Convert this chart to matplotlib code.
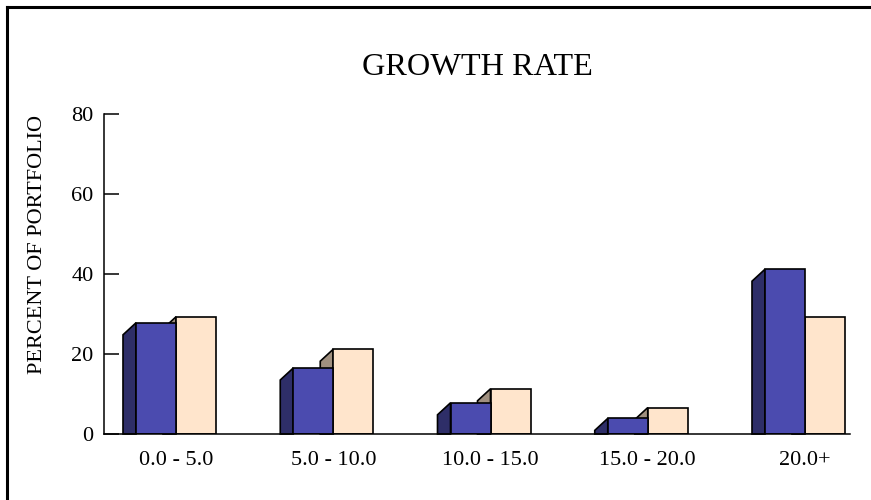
import numpy as np
import matplotlib.pyplot as plt
from matplotlib.patches import Polygon, Rectangle
from matplotlib.lines import Line2D

plt.rcParams['font.family'] = ['Liberation Serif', 'DejaVu Serif']

categories = ['0.0 - 5.0', '5.0 - 10.0', '10.0 - 15.0', '15.0 - 20.0', '20.0+']
series_a = [27.8, 16.5, 7.8, 3.9, 41.2]
series_b = [29.3, 21.2, 11.3, 6.6, 29.3]

front_a = '#4b4baf'
side_a = '#2e2e68'
front_b = '#ffe5cc'
side_b = '#a09080'

W, H = 871, 500
fig = plt.figure(figsize=(W / 100, H / 100), dpi=100)

# axes box in pixels: x 104..850, y 114..434
ax = fig.add_axes([104 / W, 1 - 434 / H, (850 - 104) / W, (434 - 114) / H])

pitch = 157.25          # px between groups
bw = 40 / pitch          # bar width in data units
dx = 13 / pitch          # depth offset to the left
dy = 3.0                 # depth offset downward (value units)

ax.set_xlim(-(176 - 104) / pitch, (850 - 176) / pitch)
ax.set_ylim(0, 80)


def bar3d(x0, h, front, side, z):
    # side face on the left, receding down-left
    top_back = max(h - dy, 0)
    ax.add_patch(Polygon([(x0 - dx, 0), (x0 - dx, top_back), (x0, h), (x0, 0)],
                         closed=True, facecolor=side, edgecolor='black',
                         linewidth=1.2, zorder=z, clip_on=False))
    ax.add_patch(Rectangle((x0, 0), bw, h, facecolor=front, edgecolor='black',
                           linewidth=1.2, zorder=z + 0.5))


x = np.arange(len(categories))
for i in x:
    bar3d(i, series_b[i], front_b, side_b, 2)
    bar3d(i - bw, series_a[i], front_a, side_a, 3)

ax.set_xticks(x)
ax.set_xticklabels(categories, fontsize=16)
ax.tick_params(axis='x', length=0, pad=12)
ax.set_yticks([0, 20, 40, 60, 80])
ax.tick_params(axis='y', direction='in', length=10.5, width=1.1, labelsize=16, pad=7.5)

for s in ['top', 'right']:
    ax.spines[s].set_visible(False)
for s in ['left', 'bottom']:
    ax.spines[s].set_linewidth(1.1)
    ax.spines[s].set_zorder(5)

fig.text(477 / W, 1 - 75 / H, 'GROWTH RATE', fontsize=23.2, ha='center', va='baseline')
fig.text(38 / W, 1 - 244 / H, 'PERCENT OF PORTFOLIO', fontsize=16,
         rotation=90, ha='center', va='center')

# outer frame, open at the right and bottom
fig.add_artist(Line2D([7 / W, 7 / W], [0, 1 - 7 / H], color='black', linewidth=2.2,
                      transform=fig.transFigure, solid_capstyle='projecting'))
fig.add_artist(Line2D([7 / W, 1], [1 - 7 / H, 1 - 7 / H], color='black', linewidth=2.2,
                      transform=fig.transFigure, solid_capstyle='projecting'))

fig.savefig('out.png', dpi=100)
